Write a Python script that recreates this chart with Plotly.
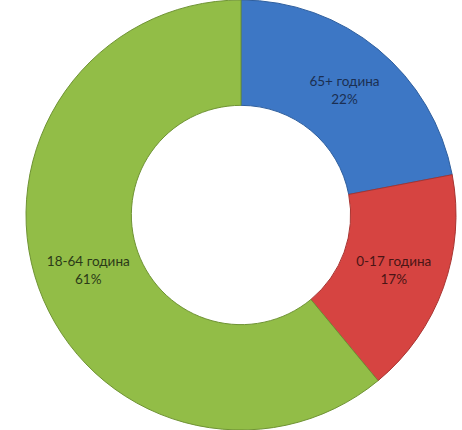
import plotly.graph_objects as go

labels = ["65+ година", "0-17 година", "18-64 година"]
values = [22, 17, 61]
colors = ["#3d77c5", "#d64441", "#92bd47"]
line_colors = ["#2f5f9e", "#a83431", "#6f9334"]
text_colors = ["#1b2f52", "#4a1515", "#2b3a18"]

W, H = 462, 430
cx, r = 241, 215

fig = go.Figure(go.Pie(
    labels=labels,
    values=values,
    hole=0.51,
    sort=False,
    direction="clockwise",
    rotation=0,
    marker=dict(colors=colors, line=dict(color=line_colors, width=1)),
    textinfo="label+percent",
    textposition="inside",
    insidetextorientation="horizontal",
    textfont=dict(family="Lato, Open Sans, sans-serif", size=13.5, color=text_colors),
    domain=dict(x=[(cx - r) / W, (cx + r) / W], y=[0, 1]),
    showlegend=False,
))
fig.update_layout(
    width=W, height=H,
    margin=dict(l=0, r=0, t=0, b=0),
    paper_bgcolor="white",
    plot_bgcolor="white",
)
fig.write_html(
    "out.html",
    config={"displayModeBar": False},
    post_script="document.body.style.margin='0';document.body.style.overflow='hidden';",
)
